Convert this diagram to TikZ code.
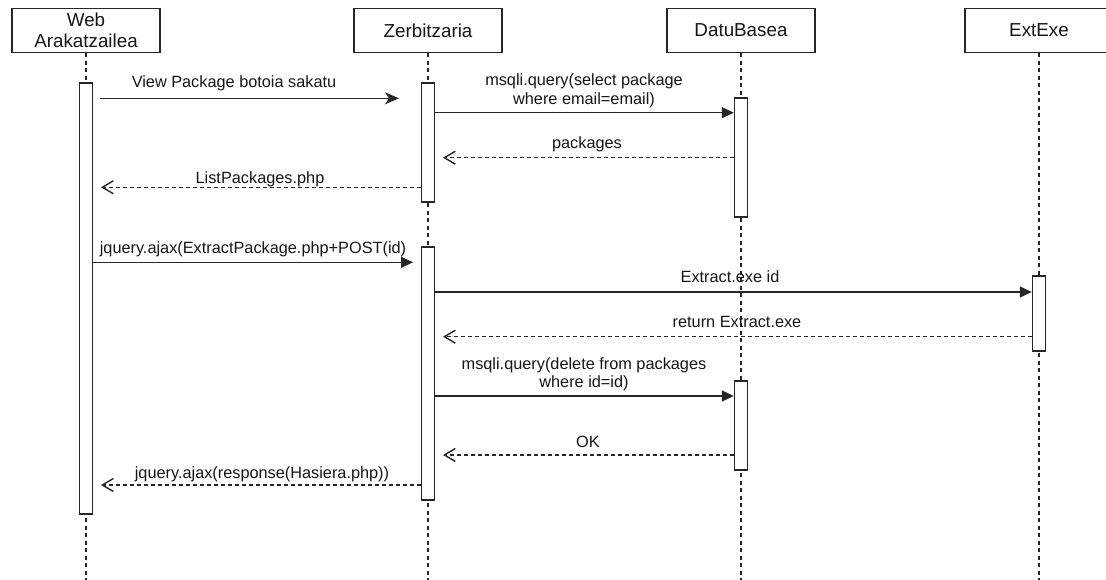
\documentclass[tikz,border=0pt]{standalone}
\usepackage{fontspec}
\setmainfont{Liberation Sans}
\usetikzlibrary{arrows.meta}
\definecolor{ln}{HTML}{262626}
\definecolor{txt}{HTML}{161616}
\begin{document}
\begin{tikzpicture}[x=1pt,y=-1pt,
  lifehead/.style={draw=ln,line width=1.4pt,fill=white,minimum width=148pt,minimum height=44pt,
    inner sep=0pt,align=center,font=\fontsize{18.8}{21.5}\selectfont,text=txt},
  actbar/.style={draw=ln,line width=1.4pt,fill=white,minimum width=13pt,inner sep=0pt},
  lifeline/.style={draw=ln,line width=1.2pt,dash pattern=on 4pt off 3.5pt},
  msg/.style={draw=ln,line width=1.4pt},
  callarrow/.style={msg,-{Triangle[length=12pt,width=11pt]}},
  sendarrow/.style={msg,-{Stealth[length=14pt,width=12pt,inset=4pt]}},
  replyarrow/.style={msg,dash pattern=on 4pt off 3pt,-{Straight Barb[length=11pt,width=13pt]}},
  lbl/.style={font=\fontsize{16.3}{18.5}\selectfont,text=txt,inner sep=0pt,align=center}
]
\clip (0,0) rectangle (1106,580);
\fill[white] (0,0) rectangle (1106,580);

% participants
\node[lifehead] (web) at (86,30.5) {Web\\Arakatzailea};
\node[lifehead] (srv) at (428,30.5) {Zerbitzaria};
\node[lifehead] (db)  at (741,30.5) {DatuBasea};
\node[lifehead] (ext) at (1039,30.5) {ExtExe};

% lifelines
\coordinate (webend) at (86,580);
\coordinate (srvend) at (428,580);
\coordinate (dbend)  at (741,580);
\coordinate (extend) at (1039,580);
\draw[lifeline] (web.south) -- (webend);
\draw[lifeline] (srv.south) -- (srvend);
\draw[lifeline] (db.south)  -- (dbend);
\draw[lifeline] (ext.south) -- (extend);

% activation bars
\node[actbar,minimum height=431pt] (wbar)  at (86,298.5) {};
\node[actbar,minimum height=119pt] (sbar1) at (428,142.5) {};
\node[actbar,minimum height=119pt] (dbar1) at (741,157.5) {};
\node[actbar,minimum height=253pt] (sbar2) at (428,373.5) {};
\node[actbar,minimum height=75pt]  (ebar)  at (1039,313.5) {};
\node[actbar,minimum height=89pt]  (dbar2) at (741,425.5) {};

% message levels and free ends
\coordinate (m1s) at (100,98.3);
\coordinate (m1e) at (399,98.3);
\coordinate (m2)  at (0,112.7);
\coordinate (m3e) at (443,157.7);
\coordinate (m4e) at (101,187.3);
\coordinate (m5e) at (413,262.3);
\coordinate (m6)  at (0,292);
\coordinate (m7e) at (443,336.7);
\coordinate (m8)  at (0,396);
\coordinate (m9e) at (443,455);
\coordinate (m10e) at (101,485);

% messages
\draw[sendarrow]  (m1s) -- (m1e);
\draw[callarrow]  (sbar1.east |- m2) -- (dbar1.west |- m2);
\draw[replyarrow] (dbar1.west |- m3e) -- (m3e);
\draw[replyarrow] (sbar1.west |- m4e) -- (m4e);
\draw[callarrow]  (wbar.east |- m5e) -- (m5e);
\draw[callarrow]  (sbar2.east |- m6) -- (ebar.west |- m6);
\draw[replyarrow] (ebar.west |- m7e) -- (m7e);
\draw[callarrow]  (sbar2.east |- m8) -- (dbar2.west |- m8);
\draw[replyarrow] (dbar2.west |- m9e) -- (m9e);
\draw[replyarrow] (sbar2.west |- m10e) -- (m10e);

% message labels
\node[lbl,anchor=base] (l1) at (234,87.3) {View Package botoia sakatu};
\node[lbl] (l2) at (584,91) {msqli.query(select package\\where email=email)};
\node[lbl,anchor=base] (l3) at (587,149) {packages};
\node[lbl,anchor=base] (l4) at (260,183.3) {ListPackages.php};
\node[lbl,anchor=base] (l5) at (253,254) {jquery.ajax(ExtractPackage.php+POST(id)};
\node[lbl,anchor=base] (l6) at (730,282.7) {Extract.exe id};
\node[lbl,anchor=base] (l7) at (737,327.7) {return Extract.exe};
\node[lbl] (l8) at (584,374.5) {msqli.query(delete from packages\\where id=id)};
\node[lbl,anchor=base] (l9) at (588,447.3) {OK};
\node[lbl,anchor=base] (l10) at (262,478.3) {jquery.ajax(response(Hasiera.php))};
\end{tikzpicture}
\end{document}
